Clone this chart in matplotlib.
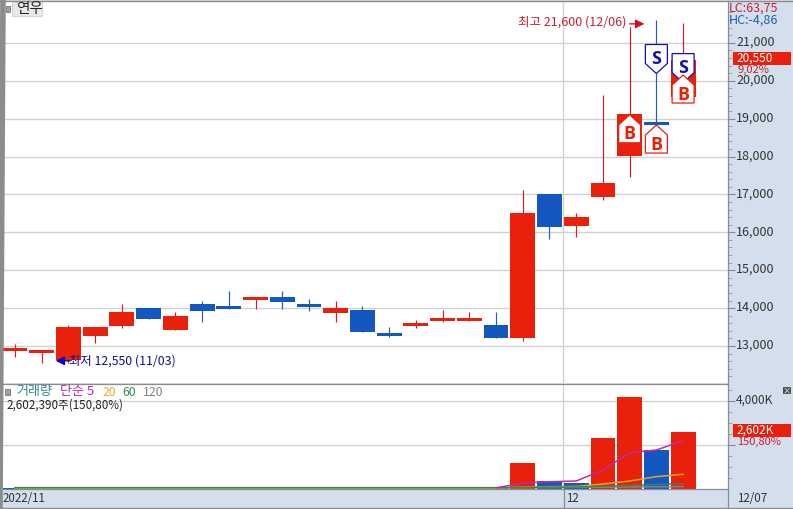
#!/usr/bin/env python3
# -*- coding: utf-8 -*-
import matplotlib
matplotlib.use('Agg')
import matplotlib.pyplot as plt
from matplotlib.patches import Polygon, Rectangle
from matplotlib.transforms import Affine2D, ScaledTranslation

plt.rcParams['font.family'] = ['Noto Sans CJK KR', 'DejaVu Sans']

## candle data (index 0 = 2022/11/01)
opens  = [12875, 12825, 12630, 13270, 13535, 14003, 13430, 14108, 14055, 14222, 14293, 14108, 13870,
          13950, 13343, 13528, 13660, 13660, 13554, 13219, 17011, 16174, 16940, 18005, 18900, 19560]
closes = [12940, 12895, 13500, 13500, 13897, 13720, 13790, 13930, 13976, 14293, 14160, 14030, 14003,
          13377, 13272, 13607, 13739, 13739, 13219, 16509, 16148, 16404, 17300, 19120, 18840, 20550]
highs  = [13045, 12895, 13555, 13500, 14108, 14003, 13890, 14187, 14450, 14293, 14450, 14240, 14187,
          14055, 13500, 13686, 13950, 13897, 13897, 17116, 17011, 16509, 19620, 21425, 21600, 21510]
lows   = [12720, 12545, 12550, 13087, 13480, 13720, 13430, 13640, 13976, 13976, 13976, 13930, 13640,
          13377, 13230, 13483, 13633, 13660, 13219, 13140, 15831, 15884, 16850, 17450, 18840, 19400]
up     = [1, 1, 1, 1, 1, 0, 1, 0, 0, 1, 0, 0, 1, 0, 0, 1, 1, 1, 0, 1, 0, 1, 1, 1, 0, 1]

volumes = [30, 30, 45, 30, 30, 25, 25, 30, 25, 25, 25, 25, 30, 35, 25, 25, 25, 25, 40,
           1178, 362, 272, 2310, 4168, 1767, 2602]
vol_up  = [0, 1, 1, 1, 1, 0, 1, 0, 0, 1, 0, 0, 1, 0, 0, 1, 1, 1, 0, 1, 0, 0, 1, 1, 0, 1]
ma5_x = [18, 19, 20, 21, 22, 23, 24, 25]
ma5   = [50, 272, 330, 362, 860, 1645, 1767, 2188]
ma20_x = [0, 18, 19, 20, 21, 22, 23, 24, 25]
ma20   = [30, 35, 90, 105, 115, 226, 360, 560, 666]
ma60_x = [0, 18, 19, 20, 21, 22, 23, 24, 25]
ma60   = [60, 60, 75, 85, 90, 125, 160, 205, 240]
ma120_x = [0, 19, 22, 25]
ma120   = [50, 55, 80, 110]

price_ticks = [13000, 14000, 15000, 16000, 17000, 18000, 19000, 20000, 21000]
vol_ticks = [2000, 4000]

buy_idx   = [23, 24, 25]
buy_price = [19100, 18830, 20150]
sell_idx   = [24, 25]
sell_price = [20190, 19950]

RED = '#e8200c'
BLUE = '#1557c0'
WICK_RED = '#d01c28'
WICK_BLUE = '#2060b8'
PANEL = '#d4dfed'
GRID = '#d2d2d2'
EDGE = '#8c8c8c'
W, H = 793, 509

def box(x0, y0, x1, y1):
    # pixel box (y from top) to figure fractions
    return [x0 / W, 1 - y1 / H, (x1 - x0) / W, (y1 - y0) / H]

def ftext(x, y, s, **kw):
    kw.setdefault('fontsize', 8.8)
    kw.setdefault('va', 'center')
    fig.text(x / W, 1 - y / H, s, **kw)

def frect(x0, y0, x1, y1, **kw):
    l, b, w, h = box(x0, y0, x1, y1)
    fig.patches.append(Rectangle((l, b), w, h, transform=fig.transFigure, **kw))

fig = plt.figure(figsize=(W / 100, H / 100), dpi=100, facecolor=PANEL)
ax = fig.add_axes(box(3, 1, 728, 383))
vx = fig.add_axes(box(3, 384, 728, 489), sharex=ax)

## price panel
x = range(len(opens))
for i in x:
    ax.vlines(i, lows[i], highs[i], color=WICK_RED if up[i] else WICK_BLUE, lw=0.85, zorder=3)
    bot = min(opens[i], closes[i])
    ax.bar(i, abs(closes[i] - opens[i]), bottom=bot, width=0.93, color=RED if up[i] else BLUE, zorder=3)
ax.set_xlim(-0.45, 26.68)
ax.set_ylim(12024, 22103)
ax.set_yticks(price_ticks)
ax.set_yticklabels([f'{v:,}' for v in price_ticks], fontsize=9, color='#333333')
ax.grid(axis='y', color=GRID, lw=1)
ax.axvline(21 - 0.5, color=GRID, lw=1, zorder=1)
ax.yaxis.tick_right()
ax.tick_params(axis='y', length=5, color=EDGE, pad=0.8)
ax.tick_params(axis='x', bottom=False, labelbottom=False)
ax.set_yticks([v + d for v in range(12500, 22000, 1000) for d in (-300, -100, 100, 300)], minor=True)
ax.tick_params(axis='y', which='minor', length=3, color='#999999')

## volume panel
vx.bar(list(x), volumes, width=0.93, color=[RED if u else BLUE for u in vol_up], zorder=2)
vx.plot(ma120_x, ma120, color='#888888', lw=1, zorder=3)
vx.plot(ma20_x, ma20, color='#f0a020', lw=1.1, zorder=4)
vx.plot(ma60_x, ma60, color='#2e8b57', lw=1.1, zorder=5)
vx.plot(ma5_x, ma5, color='#c8289a', lw=1.1, zorder=6)
vx.set_ylim(0, 4757)
vx.set_yticks(vol_ticks)
vx.set_yticklabels(['', '4,000K'], fontsize=8.5, color='#333333')
vx.grid(axis='y', color=GRID, lw=1)
vx.axvline(21 - 0.5, color=GRID, lw=1, zorder=1)
vx.yaxis.tick_right()
vx.tick_params(axis='y', length=5, color=EDGE, pad=0.8)
vx.tick_params(axis='x', bottom=False, labelbottom=False)
vx.set_yticks([500, 1000, 1500, 2500, 3000, 3500, 4500], minor=True)
vx.tick_params(axis='y', which='minor', length=3, color='#999999')

for a in (ax, vx):
    a.set_facecolor('white')
    for s in a.spines.values():
        s.set_color(EDGE)
        s.set_linewidth(0.9)
    a.spines['left'].set_visible(False)
ax.spines['top'].set_visible(False)
ax.spines['bottom'].set_visible(False)

## nudge the tick labels up a little
lift = ScaledTranslation(0, 1.5 / 72, fig.dpi_scale_trans)
for a in (ax, vx):
    for t in a.get_yticklabels():
        t.set_transform(t.get_transform() + lift)

## buy / sell badges, offsets in pixels from the anchor price
def badge(i, price, letter, color):
    px, py = ax.transData.transform((i, price))
    if letter == 'B':
        verts = [(0, 0), (11, -10), (11, -28), (-11, -28), (-11, -10)]
        ty = -19.5
    else:
        verts = [(0, 0), (11, 10), (11, 29), (-11, 29), (-11, 10)]
        ty = 15
    tr = Affine2D().translate(px, py)
    ax.add_patch(Polygon(verts, closed=True, facecolor='white', edgecolor=color,
                         lw=0.9, transform=tr, zorder=6 if letter == 'B' else 5, clip_on=False))
    ax.text(px, py + ty, letter, transform=Affine2D(), color=color, fontsize=13, fontweight='bold',
            family=['Open Sans', 'DejaVu Sans'], ha='center', va='center', zorder=7)

for i, p in zip(sell_idx, sell_price):
    badge(i, p, 'S', '#1010c0')
for i, p in zip(buy_idx, buy_price):
    badge(i, p, 'B', RED)

## high / low notes
ax.annotate('', xy=(24 - 0.45, highs[24] - 100), xytext=(23, highs[24] - 100),
            arrowprops=dict(arrowstyle='-|>', color='#d01020', lw=1, mutation_scale=13,
                            shrinkA=0, shrinkB=0), zorder=8)
ftext(518, 22, '최고 21,600 (12/06)', color='#c81e32', fontsize=9)
ax.annotate('', xy=(2 - 0.48, lows[2] + 60), xytext=(2 + 0.05, lows[2] + 60),
            arrowprops=dict(arrowstyle='-|>', color='#0000c8', lw=1, mutation_scale=13,
                            shrinkA=0, shrinkB=0), zorder=8)
ftext(69, 361, '최저 12,550 (11/03)', color='#101090', fontsize=8.9)

## top-left labels
frect(6, 6, 10, 12, facecolor='#a0a0a0', edgecolor='#777777', lw=0.6)
frect(12, 2, 42, 16, facecolor='#e8e8e8', edgecolor='#d0d0d0', lw=0.6, zorder=2)
ftext(16, 9, '연우', fontsize=10.5, color='#222222', zorder=3)
frect(5, 389, 10, 395, facecolor='#a0a0a0', edgecolor='#777777', lw=0.6)
ftext(16, 392, '거래량', color='#2f8f8f', fontsize=9.4)
ftext(60, 392, '단순 5', color='#b030a8', fontsize=9.4)
ftext(103, 392, '20', color='#e0b030')
ftext(122, 392, '60', color='#2e8b57')
ftext(143, 392, '120', color='#808080')
ftext(6, 405, '2,602,390주(150,80%)', color='#222222', fontsize=8.4)

## right panel labels
ftext(729, 8, 'LC:63,75', color='#c81e32', fontsize=9)
ftext(729, 20, 'HC:-4,86', color='#2060b0', fontsize=9)
frect(733, 52, 791, 65, facecolor=RED, edgecolor='none', zorder=5)
ftext(736, 58.5, '20,550', color='white', fontsize=8.5, zorder=6)
frect(733, 65, 791, 75, facecolor=PANEL, edgecolor='none', zorder=5)
ftext(737, 70, '9,02%', color='#c81e32', fontsize=8, zorder=6)
frect(733, 424, 791, 437, facecolor=RED, edgecolor='none', zorder=5)
ftext(736, 430.5, '2,602K', color='white', fontsize=8.5, zorder=6)
ftext(737, 442, '150,80%', color='#c81e32', fontsize=8, zorder=6)
frect(783, 387, 791, 394, facecolor='#505050', edgecolor='none', zorder=5)
ftext(787, 390.5, '×', color='white', fontsize=6, ha='center', zorder=6)

## bottom axis
ftext(3, 498, '2022/11', color='#333333', fontsize=8.3)
ftext(566, 498, '12', color='#333333', fontsize=8.3)
ftext(737, 498, '12/07', color='#333333', fontsize=8.3)
for px in (563.5, 728):
    fig.add_artist(plt.Line2D([px / W, px / W], [1 - 509 / H, 1 - 489 / H], color=EDGE, lw=0.9))
fig.add_artist(plt.Line2D([0, 3 / W], [0, 1], color=EDGE, lw=4))
fig.add_artist(plt.Line2D([0, 1], [1 - 508 / H, 1 - 508 / H], color=EDGE, lw=1))
fig.add_artist(plt.Line2D([0, 1], [1 - 0.5 / H, 1 - 0.5 / H], color=EDGE, lw=1))

fig.savefig('out.png', dpi=100, facecolor=fig.get_facecolor())
